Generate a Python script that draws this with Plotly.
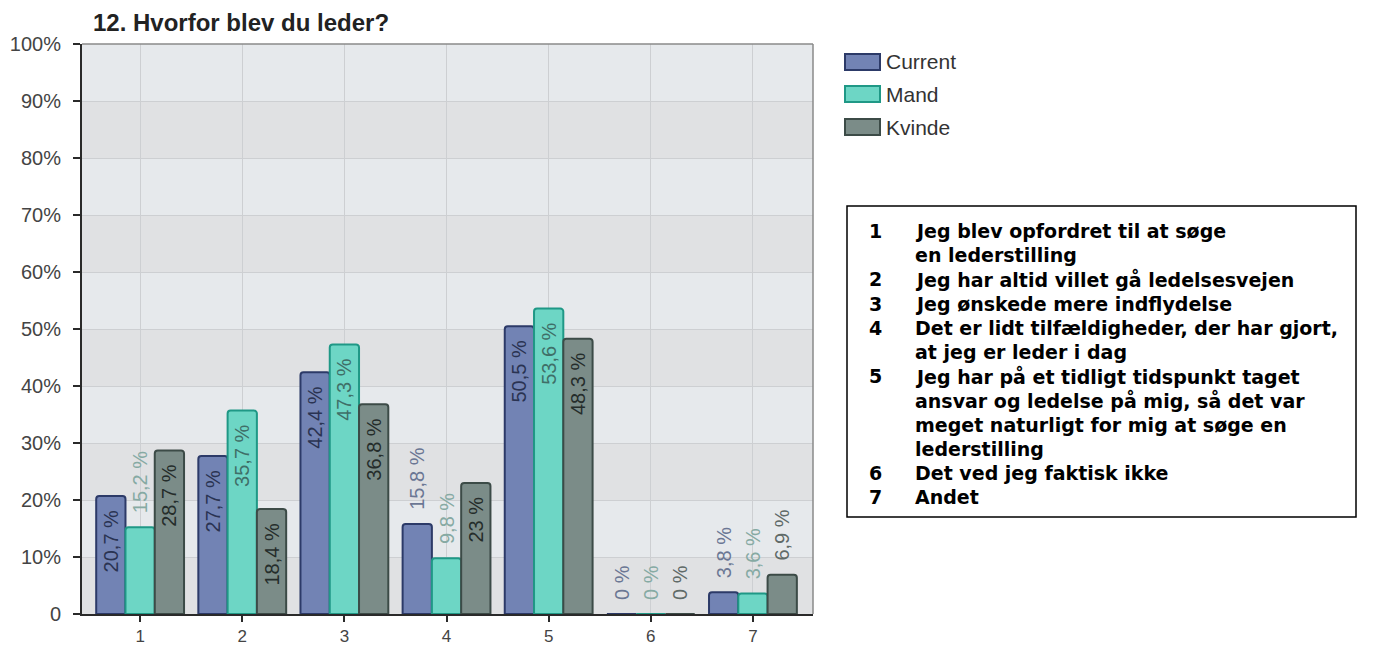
import plotly.graph_objects as go

# Survey question 12: why did you become a manager?
categories = [1, 2, 3, 4, 5, 6, 7]
series_names = ["Current", "Mand", "Kvinde"]
current = [20.7, 27.7, 42.4, 15.8, 50.5, 0, 3.8]
mand = [15.2, 35.7, 47.3, 9.8, 53.6, 0, 3.6]
kvinde = [28.7, 18.4, 36.8, 23, 48.3, 0, 6.9]
y_ticks = [0, 10, 20, 30, 40, 50, 60, 70, 80, 90, 100]
y_ticktext = ["0", "10%", "20%", "30%", "40%", "50%", "60%", "70%", "80%", "90%", "100%"]
answer_key = [
    ("1", ["Jeg blev opfordret til at søge", "en lederstilling"]),
    ("2", ["Jeg har altid villet gå ledelsesvejen"]),
    ("3", ["Jeg ønskede mere indflydelse"]),
    ("4", ["Det er lidt tilfældigheder, der har gjort,", "at jeg er leder i dag"]),
    ("5", ["Jeg har på et tidligt tidspunkt taget", "ansvar og ledelse på mig, så det var",
           "meget naturligt for mig at søge en", "lederstilling"]),
    ("6", ["Det ved jeg faktisk ikke"]),
    ("7", ["Andet"]),
]

W, H = 1383, 646
ML, MR, MT, MB = 82, W - 813, 44, H - 614
PW, PH = W - ML - MR, H - MT - MB
NB = "\u00a0\u00a0"  # padding between bar end and its label


def px(x):
    return (x - ML) / PW


def py(y):
    return (H - MB - y) / PH


def fmt(v):
    return NB + ("%g" % v).replace(".", ",") + " %" + NB


styles = {
    "Current": dict(fill="#7283b4", line="#2c3a68", inside="#2a3352", outside="#6b7794"),
    "Mand": dict(fill="#6dd6c5", line="#1f9886", inside="#3f6f68", outside="#86aaa3"),
    "Kvinde": dict(fill="#7b8c88", line="#3c4b47", inside="#252d2b", outside="#5f6a68"),
}

fig = go.Figure()
for name, vals in zip(series_names, [current, mand, kvinde]):
    st = styles[name]
    fig.add_trace(go.Bar(
        x=categories, y=vals, name=name,
        marker=dict(color=st["fill"], line=dict(color=st["line"], width=2), cornerradius=3),
        text=[fmt(v) for v in vals],
        textposition=["inside" if v >= 18 else "outside" for v in vals],
        textangle=-90,
        insidetextanchor="end",
        constraintext="none",
        cliponaxis=False,
        insidetextfont=dict(family="Liberation Sans, Arial", size=20, color=st["inside"]),
        outsidetextfont=dict(family="Liberation Sans, Arial", size=20, color=st["outside"]),
        showlegend=False,
    ))

shapes = []
# alternating horizontal bands in the plot background
for y0 in range(0, 100, 20):
    shapes.append(dict(type="rect", xref="paper", yref="y", x0=0, x1=1, y0=y0, y1=y0 + 10,
                       fillcolor="#e0e1e3", line=dict(width=0), layer="below"))
# thin frame on top/right
shapes.append(dict(type="line", xref="paper", yref="paper", x0=0, x1=1, y0=1, y1=1,
                   line=dict(color="#8a8a8a", width=1.5)))
shapes.append(dict(type="line", xref="paper", yref="paper", x0=1, x1=1, y0=0, y1=1,
                   line=dict(color="#8a8a8a", width=1.5)))

annotations = [dict(text="<b>12. Hvorfor blev du leder?</b>", xref="paper", yref="paper",
                    x=px(91), y=py(22), xanchor="left", yanchor="middle", showarrow=False,
                    font=dict(family="Liberation Sans, Arial", size=24, color="#222222"))]

# legend swatches
legend_y = [62, 94, 127]
for name, ly in zip(series_names, legend_y):
    st = styles[name]
    shapes.append(dict(type="rect", xref="paper", yref="paper",
                       x0=px(845), x1=px(880), y0=py(ly + 8), y1=py(ly - 8),
                       fillcolor=st["fill"], line=dict(color=st["line"], width=2)))
    annotations.append(dict(text=name, xref="paper", yref="paper", x=px(884), y=py(ly),
                            xanchor="left", yanchor="middle", showarrow=False,
                            font=dict(family="Liberation Sans, Arial", size=21, color="#333333")))

# answer key box
shapes.append(dict(type="rect", xref="paper", yref="paper",
                   x0=px(847), x1=px(1356), y0=py(517), y1=py(206),
                   fillcolor="white", line=dict(color="black", width=1.5)))
line_y = 231
for num, lines in answer_key:
    annotations.append(dict(text="<b>%s</b>" % num, xref="paper", yref="paper", x=px(867), y=py(line_y),
                            xanchor="left", yanchor="middle", showarrow=False,
                            font=dict(family="DejaVu Sans", size=19, color="black")))
    for ln in lines:
        annotations.append(dict(text="<b>%s</b>" % ln, xref="paper", yref="paper", x=px(913), y=py(line_y),
                                xanchor="left", yanchor="middle", showarrow=False,
                                font=dict(family="DejaVu Sans", size=19, color="black")))
        line_y += 24.2

y_font = dict(family="Liberation Sans, Arial", size=20, color="#444444")
x_font = dict(family="Liberation Sans, Arial", size=17, color="#444444")
fig.update_layout(
    width=W, height=H,
    margin=dict(l=ML, r=MR, t=MT, b=MB, autoexpand=False),
    paper_bgcolor="white", plot_bgcolor="#e6e9ec",
    barmode="group", bargap=0.14, bargroupgap=0,
    shapes=shapes, annotations=annotations,
    xaxis=dict(range=[0.431, 7.588], tickvals=categories, showgrid=True, gridcolor="#cdcfd2",
               gridwidth=1, showline=True, linecolor="#2a2a2a", linewidth=2, ticks="outside",
               ticklen=6, tickcolor="#2a2a2a", tickwidth=2, zeroline=False,
               ticklabelstandoff=0, tickfont=x_font),
    yaxis=dict(range=[0, 100], tickvals=y_ticks, ticktext=y_ticktext, showgrid=True,
               gridcolor="#cdcfd2", gridwidth=1, showline=True, linecolor="#2a2a2a", linewidth=2,
               ticks="outside", ticklen=7, tickcolor="#2a2a2a", tickwidth=2, zeroline=False,
               ticklabelstandoff=8, tickfont=y_font),
    font=dict(family="Liberation Sans, Arial"),
)

fig.write_html("out.html")
